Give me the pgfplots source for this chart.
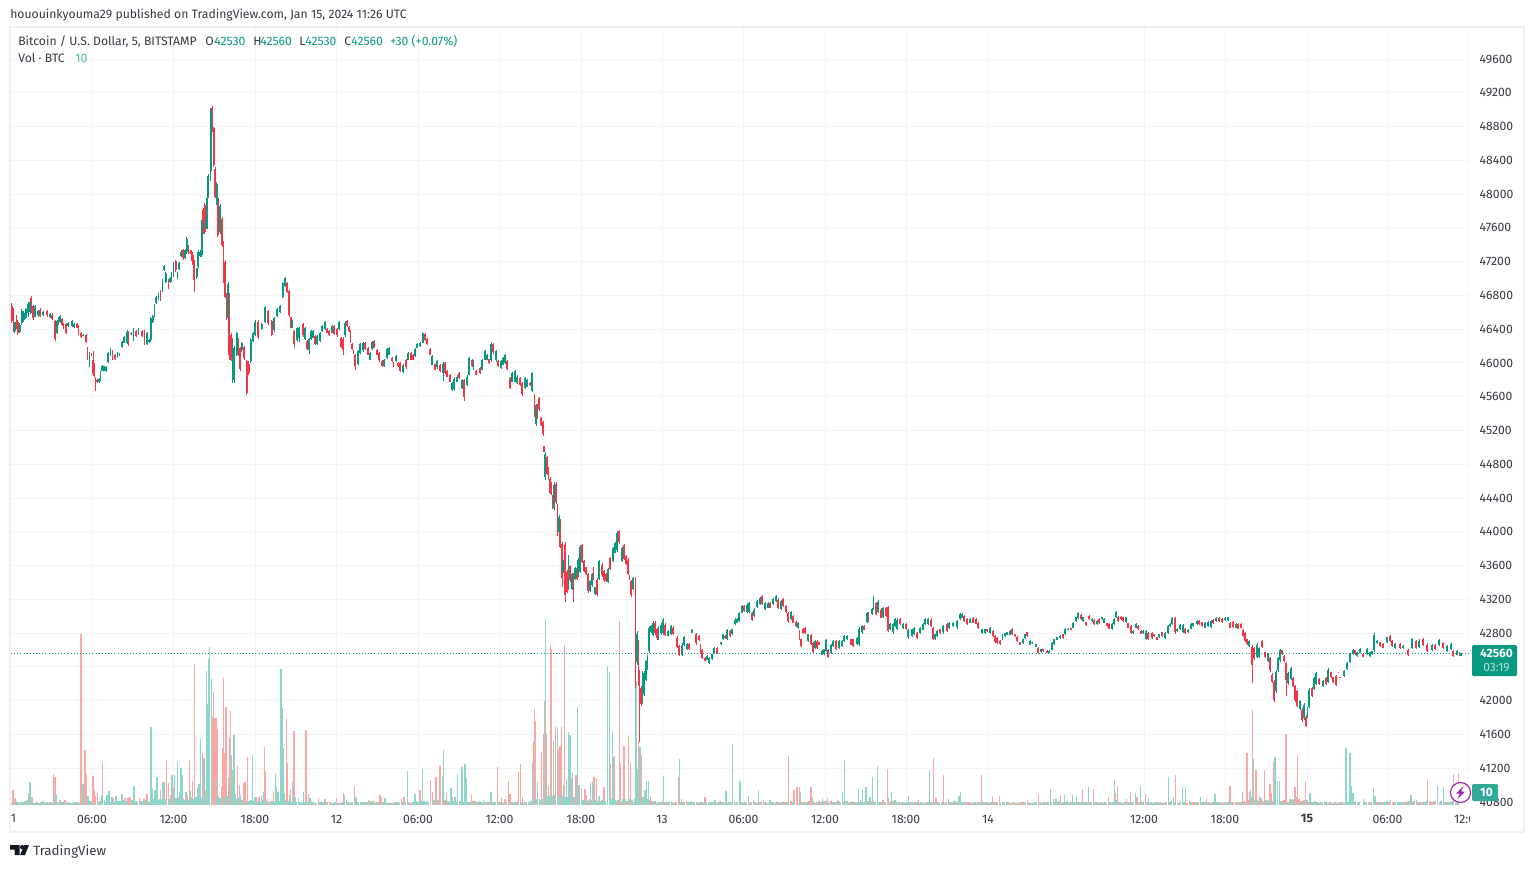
\documentclass[border=0pt]{standalone}
\usepackage{pgfplots}
\pgfplotsset{compat=1.18}
\usepackage{pgfplotstable}
\usepackage{fontspec}
\setmainfont{Fira Sans}
\definecolor{tvgreen}{HTML}{089981}
\definecolor{tvred}{HTML}{F23645}
\definecolor{volgreen}{HTML}{90D5C9}
\definecolor{volred}{HTML}{F9A8A6}
\definecolor{gridc}{HTML}{F3F4F6}
\definecolor{framec}{HTML}{F0F1F6}
\definecolor{txt}{HTML}{131722}
\pgfplotstableread{
x l h o c
12 46470 46705 46680 46500
13.5 46370 46650 46620 46400
15 46350 46490 46380 46480
16.5 46400 46570 46550 46420
18 46330 46510 46480 46360
20 46350 46470 46370 46450
22 46450 46640 46470 46620
24 46490 46610 46510 46590
26 46520 46650 46530 46640
28 46550 46720 46590 46700
30 46580 46745 46600 46720
31 46590 46790 46770 46610
33 46510 46685 46670 46530
35 46540 46685 46550 46670
38 46550 46630 46570 46620
40 46540 46650 46630 46560
43 46560 46610 46570 46600
47 46550 46630 46610 46570
50 46530 46590 46540 46580
52 46510 46590 46570 46520
55 46255 46510 46500 46280
57 46340 46510 46350 46500
58.5 46450 46550 46460 46540
60 46470 46570 46480 46560
62 46440 46530 46520 46450
63.5 46400 46470 46460 46410
66 46340 46470 46460 46360
68 46430 46480 46440 46470
72 46430 46510 46440 46500
74 46410 46470 46430 46460
77 46410 46470 46460 46420
78.5 46330 46450 46430 46350
81 46300 46370 46360 46310
83 46320 46340 46320 46335
86 46235 46340 46330 46250
87.5 46040 46190 46180 46060
89.5 45950 46130 45980 46110
91.5 46080 46120 46110 46090
93 45850 46140 46040 45870
94 45840 46000 45990 45850
95.5 45665 45830 45820 45680
97 45760 45810 45800 45770
99 45760 45820 45770 45810
100.5 45790 45900 45800 45890
102 45900 45980 45910 45970
104 45900 45970 45910 45960
106 45890 45960 45900 45950
108 46000 46130 46010 46120
110.5 46080 46180 46090 46170
112.5 46030 46150 46140 46050
115 46040 46110 46100 46050
117.5 46060 46130 46070 46120
119.5 46080 46120 46090 46110
122 46180 46260 46190 46250
124 46235 46320 46240 46310
127 46220 46390 46240 46370
128.5 46200 46380 46370 46220
131 46330 46370 46340 46360
133.5 46260 46410 46280 46390
136 46310 46390 46380 46320
138.5 46330 46410 46340 46400
142 46310 46390 46380 46320
144.5 46215 46390 46370 46230
147 46215 46370 46230 46360
149 46240 46280 46250 46275
150.7 46250 46550 46270 46530
152.7 46470 46570 46480 46560
154.5 46550 46700 46560 46690
156 46700 46790 46710 46780
158.5 46750 46830 46760 46820
160.5 46730 46860 46840 46750
162.5 46840 47000 46850 46990
164 47090 47160 47100 47150
165.7 46950 47080 46960 47070
168.5 46880 47000 46990 46890
170 46950 47020 46960 47010
171.5 46960 47080 46970 47070
173.5 47020 47200 47030 47190
175.7 47080 47220 47210 47100
177.5 47000 47080 47010 47070
179 47100 47200 47110 47190
181 47260 47335 47270 47320
183.3 47220 47355 47340 47240
185.3 47230 47350 47240 47340
186.7 47295 47490 47310 47470
188.3 47295 47395 47380 47310
190 47295 47335 47320 47300
191.7 47210 47335 47320 47230
192.7 47160 47295 47280 47180
194.3 46845 47220 47200 46980
196.7 47000 47130 47020 47120
198.3 47130 47335 47140 47320
200.3 47260 47335 47270 47320
201.7 47255 47690 47280 47670
203.3 47530 47830 47810 47560
204.7 47530 47890 47870 47550
206 47590 47730 47600 47720
207 47590 47970 47620 47950
208.3 47950 48240 47960 48220
210.7 48160 49020 48280 48990
212.3 48740 49040 49020 48760
213.7 48320 48800 48780 48340
215 47950 48320 48300 47970
216.7 47870 48140 47880 48120
217.7 47490 47970 47950 47520
220 47530 47885 47550 47860
222 47375 47730 47710 47400
223.5 46950 47450 47430 46970
225 46765 47220 47200 46780
226.7 46510 46830 46810 46530
228 46510 46960 46530 46940
229.3 46040 46830 46810 46100
231 46020 46350 46330 46040
232.5 45765 46295 45800 46270
234.3 45765 46200 45800 46180
236.7 46080 46370 46100 46350
238.3 46080 46295 46280 46100
240 45900 46195 46180 45930
241.7 46135 46250 46150 46240
244 46040 46200 46190 46060
246.7 45625 46040 46020 45650
248.7 45860 46020 45990 45880
250.7 46000 46295 46020 46270
253 46250 46370 46260 46350
255 46315 46510 46330 46490
258 46290 46510 46490 46310
261.7 46390 46470 46400 46460
265 46470 46670 46480 46660
268 46450 46630 46610 46470
271.7 46315 46510 46500 46330
274 46370 46550 46390 46530
277 46550 46650 46560 46640
280 46590 46690 46600 46680
282.7 46770 46960 46780 46950
285 46900 47020 46910 47010
287 46830 46960 46950 46840
289 46550 46865 46850 46570
290.7 46410 46550 46540 46420
292 46420 46510 46430 46500
294 46172 46392 46380 46230
297 46252 46432 46270 46420
299 46252 46432 46300 46420
303 46312 46472 46460 46330
305 46272 46432 46290 46410
307 46152 46272 46260 46170
309 46112 46292 46150 46280
311 46272 46392 46280 46380
313 46292 46392 46300 46380
315 46212 46332 46320 46220
317 46212 46332 46230 46320
320 46252 46372 46260 46360
322 46372 46452 46380 46440
325 46392 46492 46400 46480
327 46352 46412 46400 46360
329 46320 46392 46380 46330
332 46352 46452 46360 46440
334 46332 46452 46440 46345
337 46312 46412 46400 46330
339 46392 46492 46400 46480
341 46172 46312 46300 46190
343 46092 46312 46290 46150
345 46312 46492 46330 46470
347 46432 46512 46500 46440
349 46372 46440 46430 46380
350.5 46232 46392 46380 46250
352 46152 46232 46220 46160
353.5 46112 46152 46145 46120
355 45912 46112 46100 45960
358 45972 46152 45990 46140
360 46112 46232 46120 46220
363 46132 46252 46150 46240
365 46152 46252 46240 46165
368 46092 46192 46180 46100
370 46032 46132 46040 46120
372 46152 46264 46160 46250
374 46172 46272 46260 46180
377 46092 46160 46150 46100
379 46012 46132 46120 46030
382 45952 46032 46020 45960
384 45952 46052 45960 46040
387 46052 46172 46060 46160
389 46092 46192 46100 46180
392 46012 46072 46060 46020
393.5 45952 46012 46005 45960
396 46012 46092 46020 46080
398 45952 46012 46005 45960
400 45892 46012 46000 45910
403 45880 45992 45890 45980
406 45932 46052 46040 45950
408 46032 46132 46040 46120
411 46032 46132 46120 46040
413 46032 46112 46100 46040
415 46072 46172 46080 46160
417 46172 46232 46180 46225
420 46192 46252 46200 46240
423 46232 46360 46240 46350
425 46264 46352 46340 46275
427 46212 46292 46280 46220
430 46092 46172 46165 46100
432 45972 46092 45980 46080
435 45912 45992 45985 45920
437 45932 46032 45950 46020
440 45892 45992 45980 45900
443 45784 46012 45880 45990
445 45872 46012 46000 45885
447 45832 45912 45905 45840
450 45772 45872 45860 45780
452 45672 45772 45680 45760
454 45664 45832 45690 45810
457 45772 45852 45780 45840
459 45812 45892 45885 45820
462 45692 45812 45700 45800
464 45552 45812 45800 45600
467 45732 45852 45740 45840
469 45852 46072 45860 46060
472 45952 46052 46040 45960
473.5 45912 46032 45920 46020
476 45852 45912 45905 45860
480 45872 45952 45940 45880
482 45912 46052 45920 46040
485 46032 46152 46040 46140
487 46032 46112 46040 46100
489 45992 46052 46045 46000
491 46012 46252 46030 46230
493 46112 46232 46220 46125
496 46012 46152 46030 46140
498 45952 46032 46025 45960
501 45932 46032 45945 46020
503 45972 46072 45980 46060
505 45992 46112 46000 46100
507 45912 46032 46020 45925
510 45692 45832 45820 45700
512 45772 45892 45780 45880
515 45772 45912 45780 45900
517 45752 45852 45760 45840
520 45732 45832 45820 45740
522 45612 45772 45760 45630
525 45692 45832 45700 45820
527 45712 45812 45720 45800
530 45732 45772 45765 45740
532 45652 45892 45670 45880
534.5 45355 45630 45610 45375
536 45258 45513 45275 45500
537.5 45336 45513 45500 45350
539 45435 45592 45580 45450
541 45258 45356 45345 45265
543 45140 45317 45305 45155
544 44943 45022 45015 44950
545 44609 44943 44650 44925
547 44668 44904 44890 44680
548.5 44609 44766 44755 44620
550 44452 44648 44630 44465
551 44432 44590 44575 44445
552.5 44275 44432 44420 44290
554 44255 44590 44285 44560
556 44334 44590 44570 44350
557.5 43949 44334 44320 43970
559 43980 44197 43995 44180
560 43804 44157 44140 43820
562 43352 43882 43860 43450
563 43509 43666 43520 43650
565 43175 43882 43850 43250
567 43273 43548 43530 43290
568.5 43312 43725 43340 43700
570 43411 43607 43590 43425
572 43312 43509 43325 43495
573.5 43175 43509 43490 43250
575 43430 43587 43445 43575
577 43430 43587 43575 43445
578 43470 43686 43480 43670
580 43509 43843 43530 43820
582 43627 43855 43840 43640
584 43528 43666 43655 43540
586 43489 43587 43580 43500
588 43273 43509 43495 43300
590 43293 43430 43305 43420
592 43352 43509 43365 43495
593.5 43430 43587 43575 43445
595 43253 43352 43260 43345
597 43242 43450 43435 43260
599 43430 43666 43445 43650
602 43470 43627 43610 43485
604 43411 43548 43535 43425
606 43411 43509 43500 43420
608 43391 43568 43405 43555
610 43548 43705 43690 43560
613 43646 43823 43660 43810
615 43745 43882 43755 43870
617 43764 44012 43780 43990
619 43862 44020 44005 43880
622 43646 43823 43660 43810
624 43666 43862 43845 43680
626 43607 43725 43715 43620
628 43489 43686 43670 43505
629.5 43430 43489 43480 43440
631 43234 43430 43415 43250
633 43312 43470 43325 43455
635.5 42153 43470 43440 42200
637 42428 42821 42460 42790
638.5 42173 42723 42700 42200
639.5 41510 42369 42350 41800
641 41937 42173 42150 41960
642.5 41956 42350 41990 42320
644 42055 42350 42080 42330
646 42232 42487 42250 42470
647.5 42369 42546 42385 42530
649 42566 42880 42590 42860
651 42800 42900 42810 42890
653 42762 42939 42780 42920
655 42782 42939 42920 42800
657 42723 42860 42845 42740
658.5 42723 42880 42745 42860
661 42782 42919 42800 42900
663 42782 42978 42805 42955
665 42762 42919 42900 42780
668 42762 42840 42770 42830
671 42782 42900 42795 42885
673 42782 42880 42865 42795
677 42625 42762 42745 42640
679 42526 42664 42650 42545
682 42526 42684 42545 42665
684 42644 42762 42655 42750
687 42605 42684 42615 42675
689 42605 42684 42675 42615
692 42800 42848 42805 42840
696 42664 42800 42785 42680
699 42703 42782 42770 42715
700.5 42558 42677 42665 42570
702 42499 42618 42605 42510
705 42467 42519 42510 42475
707 42479 42538 42485 42530
709 42431 42519 42445 42505
712 42479 42558 42490 42548
714 42558 42637 42565 42625
717 42558 42637 42625 42565
721 42665 42697 42670 42690
723 42717 42796 42725 42785
725 42736 42776 42770 42742
727 42717 42855 42730 42840
730 42756 42835 42825 42765
732 42776 42855 42785 42845
735 42895 42974 42905 42960
737 42915 42974 42922 42965
739 42934 43053 42945 43040
742 43033 43132 43042 43120
744 43053 43132 43120 43062
747 43033 43152 43048 43138
749 43033 43172 43048 43158
752 42942 43053 43040 42955
754 42994 43093 43005 43080
757 43093 43192 43105 43180
760 43132 43231 43142 43220
762 43132 43251 43238 43145
765 43073 43172 43085 43160
768 43093 43172 43100 43162
770 43093 43172 43160 43100
773 43132 43212 43142 43202
776 43172 43251 43180 43240
778 43085 43212 43198 43098
781 43073 43192 43085 43178
783 43113 43212 43200 43125
786 43033 43132 43120 43045
788 42926 43053 43040 42940
791 42954 43061 42965 43050
793 42915 43014 43000 42925
796 42875 42942 42935 42882
798 42855 42934 42865 42925
799.5 42717 42835 42820 42730
801 42637 42736 42725 42650
803 42796 42863 42855 42805
805 42796 42875 42865 42805
808 42697 42796 42708 42785
811 42657 42796 42780 42670
813 42566 42697 42682 42580
815 42618 42717 42630 42705
817 42618 42717 42705 42630
819 42657 42697 42690 42665
822 42538 42598 42545 42590
824 42538 42618 42548 42608
826 42578 42736 42592 42720
828 42507 42618 42605 42520
831 42558 42677 42570 42665
833 42637 42717 42646 42708
836 42598 42717 42705 42610
839 42618 42717 42630 42705
842 42637 42717 42646 42708
844 42697 42776 42705 42768
847 42717 42776 42725 42768
851 42657 42736 42728 42665
853 42637 42736 42725 42648
857 42657 42756 42668 42745
859 42649 42875 42670 42850
862 42796 42895 42808 42885
864 42835 42895 42888 42842
867 42915 43053 42930 43040
868.5 42934 43053 43040 42948
872 43014 43093 43022 43085
873.5 43073 43239 43085 43225
876 43014 43172 43155 43030
878 43033 43192 43050 43175
881 42974 43093 43080 42985
883 42974 43113 42990 43100
886 42994 43113 43100 43005
888 42816 43124 43110 42830
890 42835 42915 42845 42905
893 42796 42915 42810 42905
895 42875 42974 42885 42962
897 42835 42974 42850 42960
900 42895 42974 42965 42905
903 42855 42915 42862 42908
906 42835 42915 42905 42845
908 42736 42855 42750 42842
912 42756 42855 42770 42845
914 42776 42875 42788 42865
917 42736 42815 42805 42745
920 42796 42875 42805 42865
923 42835 42915 42842 42905
925 42895 42974 42905 42965
928 42895 42974 42905 42965
931 42875 42974 42960 42885
933 42717 42875 42860 42730
935 42717 42796 42725 42785
937 42756 42835 42765 42825
940 42796 42855 42848 42805
943 42796 42895 42808 42885
947 42816 42915 42905 42828
949 42855 42934 42862 42925
953 42875 42934 42882 42925
957 42855 42954 42868 42942
960 42954 43033 42962 43025
962 42974 43033 42980 43025
964 42934 43014 43005 42942
967 42895 42974 42965 42905
970 42915 42974 42922 42965
973 42915 42994 42985 42925
976 42903 42974 42965 42912
978 42855 42934 42925 42865
982 42796 42855 42804 42848
985 42796 42855 42804 42848
987 42815 42855 42848 42822
990 42796 42875 42805 42865
993 42756 42835 42825 42765
995 42689 42776 42765 42700
997 42677 42756 42745 42688
1000 42665 42717 42708 42672
1002.5 42716 42796 42722 42786
1005 42756 42804 42762 42798
1007 42776 42816 42782 42810
1010 42776 42836 42784 42826
1012 42776 42856 42846 42786
1015 42756 42796 42790 42762
1017 42696 42764 42756 42704
1020 42656 42696 42690 42662
1023 42676 42736 42684 42728
1025 42736 42796 42745 42788
1027 42756 42816 42808 42764
1030 42656 42716 42664 42708
1032 42676 42696 42680 42692
1036 42636 42676 42642 42670
1038 42556 42636 42626 42566
1041 42568 42616 42574 42608
1043 42576 42616 42608 42584
1047 42564 42596 42590 42570
1049 42564 42596 42570 42590
1052 42596 42696 42606 42686
1054 42656 42736 42666 42726
1057 42716 42756 42722 42750
1060 42736 42776 42742 42770
1063 42736 42796 42788 42744
1065 42776 42856 42786 42846
1068 42836 42856 42840 42852
1071 42836 42864 42858 42842
1073 42856 42936 42866 42926
1076 42936 42996 42944 42988
1078 42964 43048 42974 43038
1081 42956 43028 43018 42966
1083 42936 42996 42944 42988
1086 42884 42936 42928 42892
1089 42956 43016 43008 42964
1092 42936 42976 42942 42970
1094 42896 42964 42956 42904
1097 42896 42956 42904 42948
1099 42908 42976 42966 42916
1102 42956 42996 42962 42990
1104 42916 42976 42924 42968
1107 42876 42924 42916 42884
1109 42844 42916 42906 42854
1112 42836 42916 42846 42906
1114 42896 42976 42906 42966
1116 42976 43064 42986 43054
1118 42936 43004 42994 42946
1121 42956 43004 42996 42964
1123 42936 42996 42988 42944
1126 42924 42996 42934 42986
1128 42856 42924 42916 42866
1131 42788 42896 42884 42800
1133 42796 42836 42802 42830
1136 42856 42916 42864 42908
1138 42836 42896 42888 42844
1141 42788 42836 42828 42796
1143 42796 42836 42802 42830
1146 42724 42836 42736 42824
1148 42724 42816 42804 42734
1152 42736 42816 42806 42746
1154 42756 42796 42790 42762
1157 42716 42756 42750 42722
1159 42748 42796 42754 42790
1162 42756 42816 42808 42764
1165 42736 42816 42746 42806
1168 42796 42896 42806 42886
1170 42876 42916 42882 42910
1172 42896 42988 42906 42978
1175 42796 42988 42976 42810
1177 42816 42856 42822 42850
1180 42836 42908 42846 42898
1183 42804 42908 42816 42896
1185 42796 42856 42848 42804
1188 42804 42844 42810 42838
1191 42844 42916 42852 42908
1193 42876 42924 42882 42918
1197 42896 42956 42904 42948
1199 42896 42956 42948 42904
1202 42876 42936 42928 42884
1205 42856 42936 42866 42926
1208 42876 42948 42886 42938
1211 42856 42956 42870 42942
1213 42908 42964 42956 42916
1216 42936 42988 42942 42982
1219 42936 42988 42982 42942
1222 42924 42976 42968 42932
1225 42948 42988 42954 42982
1228 42948 42996 42954 42990
1230 42856 42936 42926 42866
1233 42856 42948 42936 42868
1236 42856 42916 42864 42908
1238 42844 42916 42906 42854
1241 42856 42924 42914 42866
1243 42756 42844 42832 42768
1245 42696 42816 42800 42712
1247 42656 42736 42726 42666
1249 42636 42716 42646 42706
1252.3 42214 42661 42640 42420
1254 42483 42641 42625 42500
1257 42503 42681 42520 42660
1259 42503 42641 42520 42625
1262 42621 42720 42708 42635
1265 42503 42582 42572 42512
1268 42463 42562 42475 42550
1270 42344 42522 42505 42360
1272 42206 42324 42310 42220
1274 41988 42245 42225 42010
1276 42095 42364 42120 42345
1278 42344 42522 42360 42505
1280 42463 42610 42480 42595
1282 42542 42602 42595 42550
1284 42463 42542 42532 42472
1286 42055 42463 42445 42240
1288 42186 42344 42205 42325
1291 42245 42404 42260 42390
1293 42166 42285 42270 42180
1295 41988 42186 42170 42005
1297 41920 42126 42110 41940
1300 41889 42008 41905 41995
1302 41750 41909 41890 41770
1304 41770 41968 41790 41950
1306 41691 41829 41810 41705
1307.5 41790 41928 41805 41915
1309 41909 42146 41925 42125
1312 42047 42166 42150 42060
1314 42126 42285 42140 42270
1316 42186 42344 42200 42330
1319 42186 42265 42255 42195
1323 42166 42245 42176 42235
1326 42186 42285 42272 42198
1328 42206 42384 42225 42365
1331 42265 42344 42335 42275
1333 42206 42285 42275 42216
1336 42174 42305 42290 42190
1338.5 42324 42344 42340 42328
1340 42265 42285 42280 42270
1344 42285 42364 42295 42355
1347 42364 42463 42375 42452
1350 42443 42562 42455 42550
1353 42542 42610 42550 42602
1355 42542 42602 42595 42550
1357 42522 42582 42530 42575
1360 42562 42621 42570 42612
1363 42515 42562 42555 42522
1367 42542 42621 42552 42612
1370 42515 42582 42524 42572
1372 42542 42594 42550 42586
1374 42582 42800 42600 42780
1377 42673 42720 42680 42712
1380 42641 42701 42692 42650
1383 42621 42681 42672 42630
1387 42681 42760 42690 42750
1390 42701 42780 42770 42710
1392 42641 42720 42710 42650
1395 42618 42678 42628 42670
1400 42618 42678 42668 42626
1403 42618 42658 42624 42652
1408 42526 42618 42606 42538
1412 42618 42738 42630 42725
1416 42618 42718 42705 42630
1419 42630 42726 42642 42712
1423 42646 42738 42725 42658
1427 42578 42678 42665 42590
1432 42590 42670 42600 42660
1435 42606 42670 42660 42615
1439 42646 42726 42656 42716
1443 42618 42698 42688 42628
1447 42578 42658 42590 42648
1451 42598 42686 42610 42675
1453 42518 42598 42588 42528
1457 42538 42598 42546 42590
1459.5 42526 42578 42570 42535
1461 42530 42560 42530 42560
}\candles
\begin{document}
\begin{tikzpicture}[x=0.75pt,y=-0.75pt]
\useasboundingbox (0,0) rectangle (1534,868);
\fill[white] (0,0) rectangle (1534,868);
\pgfplotsset{
 chart/.style={scale only axis,width=1458*0.75pt,height=777*0.75pt,
  at={(8.25pt,-603.75pt)},anchor=south west,
  xmin=11,xmax=1469,ymin=40764.5,ymax=49967.8},
 every tick label/.append style={font=\fontsize{9.15pt}{11pt}\selectfont,text=txt!85},
 wick/.style={no markers,draw=none,forget plot,error bars/y dir=plus,error bars/y explicit,error bars/error mark=none,error bars/error bar style={#1,line width=0.75pt}},
 body/.style={no markers,draw=none,forget plot,error bars/y dir=plus,error bars/y explicit,error bars/error mark=none,error bars/error bar style={#1,line width=1.4pt}},
}
% grid and scales
\begin{axis}[chart,axis line style={draw=none},
 major tick length=0pt,scaled y ticks=false,scaled x ticks=false,
 grid=major,grid style={gridc,line width=0.75pt},
 ytick={40800,41200,41600,42000,42800,43200,43600,44000,44400,44800,45200,45600,46000,46400,46800,47200,47600,48000,48400,48800,49200,49600},
 extra y ticks={42400},extra y tick labels={},extra y tick style={grid=major},
 yticklabel pos=right,
 yticklabel style={anchor=west,xshift=4.5pt,/pgf/number format/assume math mode=true,/pgf/number format/fixed,/pgf/number format/precision=0,/pgf/number format/1000 sep={}},
 xtick={11,92,173.5,255,336.5,418,499.5,581,662,743.5,825,906,988,1144,1225,1307,1387.5,1468},
 xticklabels={11,06:00,12:00,18:00,12,06:00,12:00,18:00,13,06:00,12:00,18:00,14,12:00,18:00,\textbf{15},06:00,12:00},
 xticklabel style={yshift=-3.75pt},
]
\end{axis}
% volume
\begin{axis}[chart,axis lines=none,ymin=0,ymax=777]
\addplot[ycomb,no marks,volred,line width=0.85pt] coordinates {
(13,15)(14.5,6)(15.5,7)(20,2)(25,4)(31,6)(32,8)(36,2)(41,3)(46,2)(50,3)(53.5,31)(55,28)(60,5)(65,5)(70,2)(75,2)(78,3)(81,171)(85,55)(86,31)(93,29)(94.5,15)(95.7,9)(97.5,12)(102.5,43)(113,7)(119,3)(125,7)(128,7)(130,8)(139.5,7)(144,6)(147,11)(159.5,6)(160.5,15)(164.5,23)(166.5,45)(168.5,22)(171,10)(174,17)(178,8)(183,7)(187.5,10)(189.5,45)(192.5,24)(194.5,141)(202.5,52)(205,15)(212.5,88)(213.5,113)(215,87)(216,87)(217,76)(221.5,18)(222.7,57)(223.7,127)(225,52)(226,98)(229.5,67)(230.5,94)(237.5,39)(239.5,20)(243.7,22)(245,23)(247.5,48)(256.7,8)(259,8)(264.3,58)(265.7,34)(267.7,6)(270.7,4)(273.3,13)(286.3,86)(287.3,42)(290.7,16)(294,74)(306,75)(308.3,11)(314,2)(318.3,7)(325,6)(330,3)(336.7,7)(340,2)(343.3,12)(350,2)(354.3,19)(365,3)(368.3,5)(373,4)(376,3)(380,10)(381.7,8)(390,2)(395,3)
(401.7,6)(404,8)(412,2)(420,15)(428,3)(430.7,25)(432.3,13)(436,28)(439.3,7)(440,39)(446.7,11)(452.7,8)(459.3,4)(471.7,10)(475,4)(478,3)(486,3)(497.3,38)(501.7,8)(505,6)(508.3,24)(510,11)(518.3,33)(520.3,41)(522.7,8)(526,3)(533.7,64)(534.3,96)(535,84)(539.3,6)(541.7,53)(543.3,71)(544.7,104)(546.7,71)(550.3,160)(551.3,156)(555.7,78)(558.3,56)(560,59)(561.7,78)(564.3,160)(571.7,27)(576,30)(581.7,17)(585,16)(586.7,10)(589.3,6)(594,28)(596.7,27)(604,18)(610.7,41)(614.3,49)(619.3,184)(620.7,42)(624,59)(628.3,69)(630.7,42)(638.7,64)(641,50)(641.7,36)(650.7,9)(658.3,4)(666.7,4)(678.3,28)(681.7,6)(686.7,4)(696.7,3)(705,8)(720,4)(753.3,5)(763.3,5)(776.7,4)(783.3,4)(788.3,49)(796.7,18)
(794,15)(797.3,18)(799.3,18)(803,3)(806,2)(811,18)(816,2)(827.3,7)(832,2)(837.3,5)(848,2)(860.7,5)(874,3)(887.3,36)(900,2)(918.3,5)(925,2)(933.3,47)(936,7)(943.3,30)(952,2)(966.7,3)(972,2)(981.3,30)(992.7,8)(999.3,9)(1012,2)(1020,3)(1027.3,5)(1038.3,11)(1045,2)(1060.3,10)(1068,2)(1082.3,16)(1093.7,16)(1100,2)(1108.3,8)(1115.3,12)(1117.3,18)(1126.3,6)(1130.3,13)(1137,8)(1145.3,11)(1155,3)(1162,2)(1175.3,30)(1189.3,4)(1195,3)(1206.7,6)(1211,2)(1222,2)(1230,19)(1236,3)(1242.3,13)(1247,52)(1250,13)(1252.3,95)(1256,35)(1260,8)(1264.3,35)(1270,21)(1271.3,12)(1273.3,43)(1286,71)(1295,18)(1297.3,50)(1300,4)(1305.7,24)(1320,2)(1332,2)(1340,3)(1358,2)(1368.3,3)(1380,3)(1390,3)(1398,3)(1405,3)(1420,3)(1427.3,26)(1432,3)(1446,3)(1453.3,31)(1458.3,32)};
\addplot[ycomb,no marks,volgreen,line width=0.85pt] coordinates {
(16,4)(18,3)(23,3)(27,5)(29,12)(30,23)(34,2)(38,2)(43,4)(48,2)(52,2)(56,11)(58,2)(62,3)(67,2)(72,2)(83,21)(88,9)(90,4)(100,4)(102,10)(104.5,5)(107,10)(109,14)(112,8)(116,9)(122,11)(134,19)(137,3)(148.5,4)(151,78)(152.5,16)(155,15)(157,28)(163,23)(172,30)(174.5,30)(177.5,43)(180,13)(181,37)(182,30)(184,5)(186,13)(190.5,14)(196.5,8)(197.5,17)(199,21)(200.5,66)(204,47)(206.5,134)(207.5,101)(209,146)(209.7,158)(211.5,126)(216.7,26)(218.5,9)(228.5,28)(231.5,50)(232.7,35)(234,70)(235,11)(240.7,10)(250,4)(252.5,50)(255,8)(261.7,9)(263.3,13)(275.3,31)(276.7,18)(278,13)(279.3,4)(281,136)(282.7,97)(283.3,57)(284.7,12)(289.3,10)(292.3,23)(295,8)(298.3,7)(303.3,13)(310,7)(311.7,4)(321.7,4)(333,2)(344.7,10)(346.7,5)(356,8)(360.7,3)(370,4)(385,7)(388.3,3)(393,2)(398,3)
(407.3,34)(415,11)(422.3,36)(425,3)(442.3,29)(443.3,55)(451,17)(455,8)(457.3,31)(462,38)(465,41)(466.7,27)(480,4)(483.3,5)(491,13)(495,3)(515,3)(528.3,3)(532.3,43)(537.3,23)(545.3,186)(548.3,19)(553.3,64)(557.3,78)(563.3,20)(566.7,26)(568.3,73)(570,70)(572.7,32)(577.3,98)(579,20)(590.7,23)(592.7,23)(599,9)(607.3,139)(609.3,132)(612.3,74)(613.3,48)(636,124)(637.3,36)(640,58)(645,15)(646.7,24)(648.7,24)(655,4)(663.3,29)(671.7,4)(679.3,46)(691.7,4)(700,3)(708.3,3)(715,5)(726,14)(732.3,61)(734.3,4)(740,24)(748.3,9)(758.3,15)(770,5)(780,2)
(800.7,13)(808,2)(812.3,8)(822.3,7)(829,2)(842.3,13)(844.3,45)(851,3)(858.3,16)(862.3,15)(866,18)(870,8)(872.3,28)(877.3,39)(888.7,7)(891.3,13)(895,5)(904,2)(908.3,9)(914,2)(922,2)(929.3,34)(948.7,6)(959,9)(960.3,13)(976,2)(986,2)(996,3)(1006.7,3)(1016,2)(1033,2)(1050.3,16)(1053.3,6)(1056,6)(1064.7,10)(1072.7,10)(1076.3,9)(1088.3,18)(1104,2)(1114.3,25)(1122,2)(1135.3,12)(1140.3,19)(1148.3,7)(1152,2)(1168.3,28)(1173.3,8)(1182.7,18)(1185.7,18)(1200.7,8)(1215,11)(1226,2)(1250.7,15)(1253.3,46)(1261.7,6)(1275,48)(1277.3,24)(1279.3,24)(1290,6)(1294.3,10)(1310,12)(1315,4)(1326.7,4)(1336,2)(1346,57)(1350,52)(1351,19)(1353,12)(1363.3,6)(1373.3,17)(1375,9)(1385,3)(1390.5,5)(1400,3)(1411,10)(1416.7,5)(1425,3)(1437.3,19)(1443.3,18)(1450,3)(1456,2)};
\addplot[ycomb,no marks,volred,line width=0.85pt] coordinates {(402,2)(405,3)(410,2)(417,3)(443,4)(449,3)(469,3)(473,4)(482,2)(489,3)(492,2)(500,3)(503,2)(513,2)(517,3)(524,2)(530,2)(588,4)(600,3)(602,5)(617,4)(622,3)(627,4)(633,3)(644,4)(652,4)(654,2)(660,3)(664,2)(668,3)(673,2)(676,3)(684,3)(689,2)(693,3)(699,2)(703,2)(711,3)(717,2)(723,3)(729,3)(736,2)(742,3)(746,2)(751,3)(757,2)(761,3)(767,2)(773,3)(779,2)(785,3)(791,4)(800,4)(805,3)(809,4)(814,3)(819,4)(822,2)(826,4)(831,4)(835,3)(840,3)(846,4)(852,4)(855,3)(860,3)(865,2)(869,3)(873,4)(880,3)(883,5)(890,3)(893,4)(897,2)(902,3)(906,2)(910,3)(915,3)(919,2)(927,3)(931,3)(938,3)(945,2)(949,3)(955,4)(958,3)(963,2)(968,3)(974,3)(978,3)(984,3)(989,2)(993,3)(997,3)(1003,3)(1010,2)(1017,2)(1022,3)(1025,2)(1030,2)(1036,3)(1042,2)(1048,3)(1054,2)(1058,3)(1062,2)(1066,3)(1071,3)(1075,2)(1079,3)(1085,3)(1090,3)(1096,3)(1102,3)(1106,2)(1111,2)(1119,3)(1124,2)(1128,3)(1133,3)(1139,3)(1143,3)(1147,3)(1150,2)(1158,2)(1164,2)(1170,3)(1178,2)(1184,3)(1187,2)(1193,3)(1198,3)(1204,3)(1209,3)(1214,2)(1218,3)(1224,3)(1228,3)(1233,3)(1239,3)(1244,4)(1249,5)(1255,3)(1259,4)(1263,3)(1267,4)(1272,4)(1282,4)(1284,5)(1288,3)(1291,4)(1293,6)(1296,8)(1299,6)(1302,4)(1304,5)(1308,3)(1312,3)(1318,3)(1322,3)(1328,2)(1335,3)(1344,2)(1355,3)(1365,3)(1371,3)(1377,3)(1383,3)(1388,3)(1393,3)(1403,3)(1408,4)(1413,3)(1418,3)(1423,3)(1430,4)(1435,4)(1440,3)(1448,3)};
\addplot[ycomb,no marks,volgreen,line width=0.85pt] coordinates {(11.5,2)(21,3)(24,3)(33,2)(37,3)(40,2)(44,3)(47,3)(51,3)(57,3)(61,3)(64,3)(68,3)(71,2)(74,3)(76,3)(79,2)(92,3)(99,3)(105,3)(111,3)(115,3)(118,4)(120,4)(124,5)(127,4)(132,5)(136,4)(141,4)(143,4)(146,5)(150,3)(154,6)(159,5)(161,6)(165,6)(169,6)(176,7)(179,5)(185,5)(188,5)(191,8)(193,6)(195,8)(201,7)(203,7)(218,7)(220,7)(224,8)(227,9)(233,6)(236,6)(238,7)(242,5)(246,4)(249,4)(251,5)(254,4)(258,4)(260,3)(262,5)(266,4)(269,3)(272,4)(274,3)(280,3)(285,5)(288,4)(291,3)(293,3)(296,3)(300,3)(302,2)(305,3)(307,3)(313,3)(316,2)(320,3)(323,3)(327,3)(332,2)(335,3)(338,2)(342,3)(348,3)(352,3)(358,3)(362,3)(364,3)(367,3)(372,3)(375,2)(378,3)(383,3)(387,2)(392,2)(396,3)(399,2)(403,3)(408,3)(413,3)(416,4)(418,3)(421,4)(424,4)(427,4)(434,5)(438,5)(445,5)(448,4)(453,4)(456,3)(461,4)(464,3)(468,3)(470,3)(474,3)(477,3)(481,3)(485,3)(488,3)(493,3)(498,3)(502,3)(506,3)(512,3)(516,3)(521,3)(525,3)(529,3)(531,4)(536,6)(540,5)(542,6)(547,9)(549,9)(552,9)(554,10)(559,8)(562,9)(565,8)(567,8)(569,8)(574,8)(578,6)(582,5)(584,5)(587,5)(591,5)(595,5)(597,4)(601,4)(603,4)(605,4)(611,6)(615,5)(618,5)(623,6)(625,6)(629,6)(632,5)(635,6)(639,6)(643,8)(647,6)(649,5)(653,3)(657,2)(659,3)(662,3)(665,3)(669,3)(672,3)(675,2)(680,3)(683,3)(688,3)(690,3)(694,3)(698,2)(702,3)(706,3)(710,2)(713,3)(718,3)(722,3)(724,2)(728,2)(731,3)(737,3)(743,2)(745,3)(750,2)(755,3)(759,3)(765,3)(768,2)(772,3)(775,2)(778,3)(782,3)(787,3)(793,3)(798,2)(802,3)(804,2)(807,3)(813,4)(817,3)(821,3)(824,4)(828,3)(833,3)(836,3)(839,4)(843,3)(847,4)(850,3)(854,3)(857,3)(861,3)(864,3)(868,4)(871,4)(875,3)(879,3)(882,3)(885,3)(892,3)(896,4)(899,3)(903,3)(907,3)(912,3)(917,3)(921,3)(924,2)(928,3)(932,3)(935,3)(939,3)(942,3)(946,3)(951,3)(954,4)(957,3)(962,3)(965,3)(970,3)(975,3)(980,3)(983,3)(987,3)(991,3)(995,3)(1000,2)(1004,3)(1008,3)(1014,3)(1019,2)(1024,3)(1028,3)(1032,2)(1035,3)(1040,3)(1044,3)(1047,3)(1051,3)(1055,3)(1059,4)(1063,3)(1067,4)(1070,3)(1074,3)(1078,3)(1081,3)(1084,3)(1087,3)(1091,3)(1095,3)(1098,3)(1101,3)(1105,3)(1110,3)(1113,3)(1116,5)(1120,3)(1125,3)(1129,3)(1132,3)(1136,3)(1142,3)(1146,3)(1151,3)(1154,2)(1157,3)(1160,3)(1166,3)(1171,4)(1175,3)(1180,3)(1183,3)(1191,3)(1197,3)(1202,3)(1205,3)(1208,3)(1213,3)(1217,3)(1220,3)(1225,3)(1229,3)(1232,3)(1238,3)(1241,3)(1246,3)(1251,8)(1254,5)(1257,5)(1262,4)(1266,5)(1269,5)(1274,8)(1281,4)(1285,3)(1289,3)(1292,5)(1298,3)(1303,3)(1307,5)(1313,3)(1317,3)(1321,3)(1325,3)(1330,3)(1334,2)(1338,2)(1342,3)(1348,3)(1355.5,4)(1359,3)(1366,3)(1370,3)(1379,3)(1382,3)(1387,4)(1395,3)(1398,3)(1402,3)(1406,3)(1410,4)(1414,4)(1421,3)(1427,4)(1434,4)(1441,4)(1444,3)(1448,3)(1452,4)(1458,2)};
\end{axis}
% price
\begin{axis}[chart,axis lines=none,clip=true]
\addplot[tvgreen,line width=0.75pt,dash pattern=on 0.75pt off 1.6pt,forget plot] coordinates {(11,42560)(1469,42560)};
\addplot[wick=tvred] table[x=x,y expr={\thisrow{c}<\thisrow{o} ? \thisrow{l} : nan},y error expr={\thisrow{h}-\thisrow{l}}]{\candles};
\addplot[wick=tvgreen] table[x=x,y expr={\thisrow{c}>=\thisrow{o} ? \thisrow{l} : nan},y error expr={\thisrow{h}-\thisrow{l}}]{\candles};
\addplot[body=tvred] table[x=x,y expr={\thisrow{c}<\thisrow{o} ? \thisrow{c} : nan},y error expr={\thisrow{o}-\thisrow{c}}]{\candles};
\addplot[body=tvgreen] table[x=x,y expr={\thisrow{c}>=\thisrow{o} ? \thisrow{o} : nan},y error expr={\thisrow{c}-\thisrow{o}}]{\candles};
\end{axis}
% clipping of labels
\fill[white] (1470,805.5) rectangle (1522.5,830);
\fill[white] (0,805) rectangle (10,830);
% frame
\draw[framec,line width=1.5pt] (10,27) rectangle (1523.5,832);
% headline
\tikzset{tt/.style={anchor=base west,inner sep=0pt,font=\fontsize{9.15pt}{11pt}\selectfont,text=txt!85}}
\node[tt] at (10,18.5) {hououinkyouma29 published on TradingView.com, Jan 15, 2024 11:26 UTC};
\node[tt] at (18,45.5) {Bitcoin / U.S. Dollar, 5, BITSTAMP};
\node[tt] at (205,45.5) {O};\node[tt,text=tvgreen] at (214,45.5) {42530};
\node[tt] at (253,45.5) {H};\node[tt,text=tvgreen] at (260,45.5) {42560};
\node[tt] at (299,45.5) {L};\node[tt,text=tvgreen] at (305,45.5) {42530};
\node[tt] at (344,45.5) {C};\node[tt,text=tvgreen] at (351,45.5) {42560};
\node[tt,text=tvgreen] at (390,45.5) {+30 (+0.07\%)};
\node[tt] at (18,62.5) {Vol · BTC};\node[tt,text=volgreen!50!tvgreen] at (75,62.5) {10};
% price badge
\fill[tvgreen,rounded corners=1pt] (1472,645) rectangle (1517,676);
\node[font=\fontsize{9pt}{11pt}\selectfont\bfseries,text=white,inner sep=0pt] at (1496.5,653.5) {42560};
\node[font=\fontsize{9pt}{11pt}\selectfont,text=white!70!tvgreen,inner sep=0pt] at (1496.5,667.5) {03:19};
% volume badge
\fill[volgreen!30!tvgreen,rounded corners=1pt] (1472,784) rectangle (1498,801);
\node[font=\fontsize{9pt}{11pt}\selectfont\bfseries,text=white,inner sep=0pt] at (1486.5,792.5) {10};
% lightning
\definecolor{purp}{RGB}{156,39,176}
\filldraw[fill=white,draw=purp,line width=0.9pt] (1460.5,792.5) circle[radius=10];
\fill[purp] (1463.5,786)--(1456,793.5)--(1459.8,793.5)--(1457.5,799)--(1465,791.5)--(1461.2,791.5)--cycle;
% logo
\fill[txt] (10,845)--(19.5,845)--(19.5,855)--(14.5,855)--(14.5,849.5)--(10,849.5)--cycle;
\fill[txt] (22.2,847.2) circle[radius=2.2];
\fill[txt] (24.5,845)--(29,845)--(25,855)--(20,855)--cycle;
\node[anchor=base west,inner sep=0pt,font=\fontsize{10pt}{12pt}\selectfont,text=txt!85] at (33,855) {TradingView};
\end{tikzpicture}
\end{document}
